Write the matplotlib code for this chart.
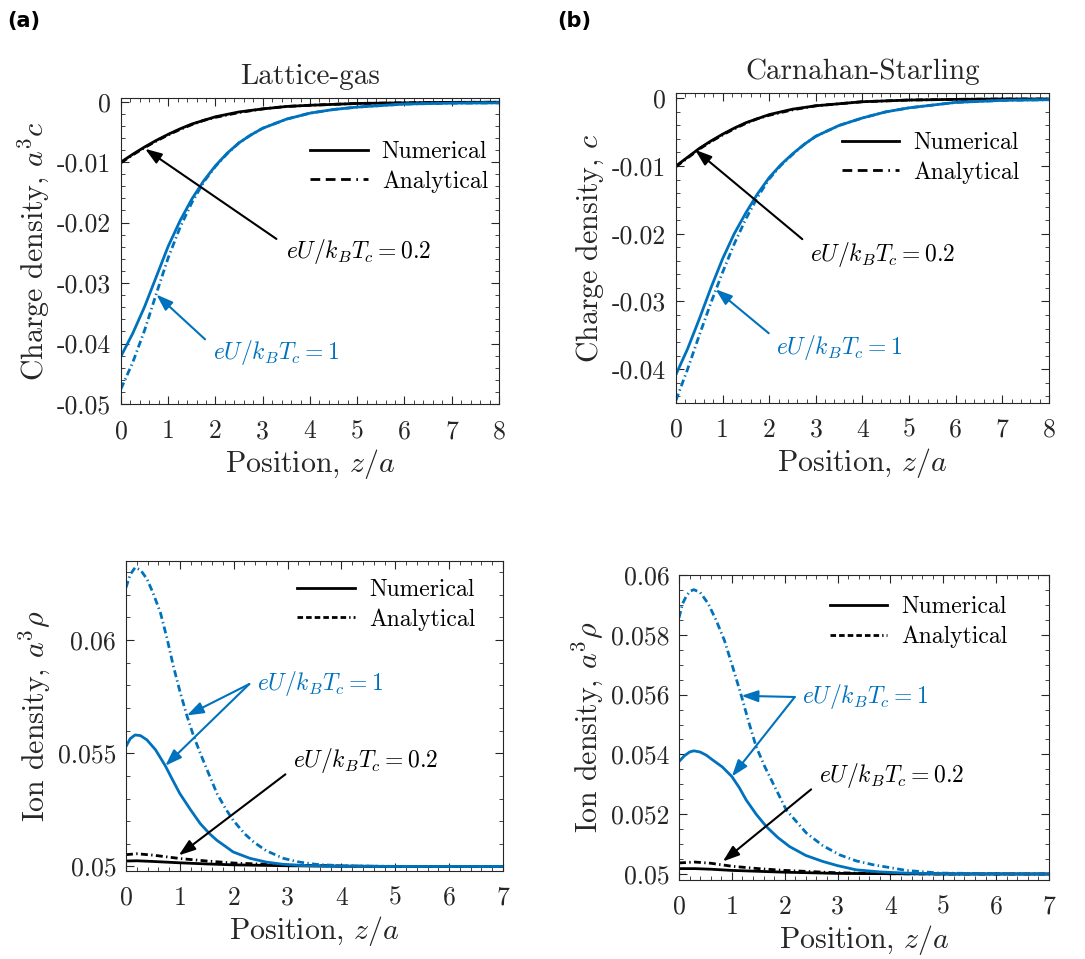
import numpy as np
import matplotlib
matplotlib.use('Agg')
import matplotlib.pyplot as plt
from matplotlib.lines import Line2D
from matplotlib.ticker import AutoMinorLocator, FuncFormatter, MultipleLocator

plt.rcParams.update({'font.family': 'serif',
                     'font.serif': ['cmr10'],
                     'mathtext.fontset': 'cm',
                     'axes.unicode_minus': False,
                     'axes.formatter.use_mathtext': True})

blue = '#0072BD'
dark = '#262626'

# ---- data ----
# (a) top: Lattice-gas charge density
z_tl_k = [0, 0.25, 0.5, 0.75, 1, 1.25, 1.5, 1.75, 2, 2.5, 3, 3.5, 4, 5, 6, 7, 8]
c_tl_k_num = [-0.0100, -0.0087, -0.0075, -0.0064, -0.0054, -0.0045, -0.0037, -0.0031, -0.0025,
              -0.0017, -0.0012, -0.0008, -0.0006, -0.0003, -0.0002, -0.00012, -0.0001]
c_tl_k_ana = [-0.0101, -0.0088, -0.0076, -0.0065, -0.0055, -0.0046, -0.0038, -0.0031, -0.0026,
              -0.0018, -0.0012, -0.0008, -0.0006, -0.0003, -0.0002, -0.00012, -0.0001]
z_tl_b = [0, 0.25, 0.5, 0.75, 1, 1.25, 1.5, 1.75, 2, 2.25, 2.5, 2.75, 3, 3.5, 4, 4.5, 5, 6, 7, 8]
c_tl_b_num = [-0.0421, -0.0383, -0.0339, -0.0289, -0.0239, -0.0197, -0.0161, -0.0131, -0.0106,
              -0.0085, -0.0068, -0.0055, -0.0044, -0.0029, -0.0019, -0.0013, -0.0009, -0.0004,
              -0.00025, -0.0002]
c_tl_b_ana = [-0.0475, -0.0431, -0.0378, -0.0317, -0.0258, -0.0208, -0.0167, -0.0133, -0.0107,
              -0.0086, -0.0068, -0.0055, -0.0044, -0.0029, -0.0019, -0.0013, -0.0009, -0.0004,
              -0.00025, -0.0002]

# (b) top: Carnahan-Starling charge density
z_tr_k = [0, 0.25, 0.5, 0.75, 1, 1.25, 1.5, 1.75, 2, 2.5, 3, 3.5, 4, 5, 6, 7, 8]
c_tr_k_num = [-0.0100, -0.0087, -0.0074, -0.0063, -0.0053, -0.0044, -0.0036, -0.0030, -0.0024,
              -0.0016, -0.0011, -0.0008, -0.0005, -0.00025, -0.00015, -0.0001, -0.0001]
c_tr_k_ana = [-0.0101, -0.0088, -0.0075, -0.0064, -0.0054, -0.0045, -0.0037, -0.0030, -0.0025,
              -0.0017, -0.0011, -0.0008, -0.0005, -0.00025, -0.00015, -0.0001, -0.0001]
z_tr_b = [0, 0.25, 0.5, 0.75, 1, 1.25, 1.5, 1.75, 2, 2.25, 2.5, 2.75, 3, 3.5, 4, 4.5, 5, 6, 7, 8]
c_tr_b_num = [-0.0408, -0.0370, -0.0326, -0.0280, -0.0237, -0.0200, -0.0169, -0.0141, -0.0117,
              -0.0098, -0.0082, -0.0068, -0.0056, -0.0040, -0.0029, -0.0020, -0.0014, -0.0006,
              -0.0003, -0.0002]
c_tr_b_ana = [-0.0446, -0.0400, -0.0350, -0.0302, -0.0257, -0.0215, -0.0178, -0.0146, -0.0119,
              -0.0099, -0.0083, -0.0068, -0.0056, -0.0040, -0.0029, -0.0020, -0.0014, -0.0006,
              -0.0003, -0.0002]

# (a) bottom: Lattice-gas ion density
z_bl_ba = [0, 0.08, 0.17, 0.27, 0.39, 0.5, 0.64, 0.76, 0.88, 1.0, 1.13, 1.25, 1.38, 1.5, 1.69,
           1.85, 1.99, 2.2, 2.37, 2.6, 2.92, 3.2, 3.54, 4.0, 4.47, 5.5, 7]
r_bl_ba = [0.06232, 0.0629, 0.06321, 0.0631, 0.0627, 0.0621, 0.06121, 0.0601, 0.05885, 0.05775,
           0.05667, 0.0558, 0.0550, 0.0543, 0.05322, 0.05255, 0.05204, 0.05145, 0.05108, 0.05070,
           0.05036, 0.05020, 0.05009, 0.05003, 0.05001, 0.05, 0.05]
z_bl_bn = [0, 0.08, 0.17, 0.27, 0.39, 0.55, 0.73, 0.86, 1.0, 1.2, 1.38, 1.55, 1.69, 1.85, 1.99,
           2.3, 2.61, 2.9, 3.23, 3.85, 5, 7]
r_bl_bn = [0.0553, 0.05565, 0.05581, 0.05578, 0.05559, 0.05515, 0.05445, 0.05385, 0.05322,
           0.0525, 0.05189, 0.05145, 0.05115, 0.05088, 0.05064, 0.05036, 0.05019, 0.05010,
           0.05004, 0.05001, 0.05, 0.05]
z_bl_k = [0, 0.2, 0.5, 1, 1.5, 2, 3, 4, 5, 7]
r_bl_ka = [0.05052, 0.05056, 0.05050, 0.05035, 0.05024, 0.05015, 0.05006, 0.05002, 0.05, 0.05]
r_bl_kn = [0.05024, 0.05025, 0.05022, 0.05016, 0.05011, 0.05007, 0.05003, 0.05001, 0.05, 0.05]

# (b) bottom: Carnahan-Starling ion density
z_br_ba = [0, 0.07, 0.14, 0.21, 0.28, 0.4, 0.55, 0.7, 0.86, 1.02, 1.18, 1.32, 1.46, 1.62, 1.78,
           2.03, 2.41, 2.72, 3.04, 3.35, 3.67, 4.3, 4.93, 7]
r_br_ba = [0.05857, 0.05905, 0.0593, 0.05946, 0.05951, 0.05942, 0.05905, 0.05850, 0.05781,
           0.05690, 0.05596, 0.05508, 0.05426, 0.05360, 0.05303, 0.05214, 0.05137, 0.05095,
           0.05064, 0.05044, 0.05031, 0.05012, 0.05003, 0.05]
z_br_bn = [0, 0.1, 0.2, 0.28, 0.4, 0.52, 0.64, 0.82, 1.0, 1.14, 1.27, 1.46, 1.65, 1.87, 2.09,
           2.4, 2.72, 3.0, 3.35, 3.8, 4.3, 5.2, 7]
r_br_bn = [0.05376, 0.05395, 0.05408, 0.05412, 0.05408, 0.05397, 0.05381, 0.05358, 0.05326,
           0.05289, 0.05248, 0.05200, 0.05159, 0.05122, 0.05092, 0.05062, 0.05042, 0.05028,
           0.05014, 0.05007, 0.05003, 0.05, 0.05]
z_br_k = [0, 0.3, 0.6, 1, 1.5, 2, 3, 4, 5, 7]
r_br_ka = [0.05037, 0.0504, 0.05036, 0.05026, 0.05018, 0.05012, 0.05004, 0.05001, 0.05, 0.05]
r_br_kn = [0.05018, 0.05018, 0.05016, 0.05012, 0.05009, 0.05006, 0.05002, 0.05001, 0.05, 0.05]

labelU02 = r'$eU/k_BT_c = 0.2$'
labelU1 = r'$eU/k_BT_c = 1$'

tickFont = 18.5
axesFont = {'size': 21.5, 'color': dark}
titleFont = {'size': 21, 'color': dark}
annFont = 17
legFont = 17
anaStyle = (0, (2.5, 1.2, 0.5, 1.2))
lw = 2.0

fig = plt.figure(figsize=(10.85, 9.59), dpi=100)
ax_tl = fig.add_axes([0.1115, 0.5787, 0.3484, 0.3191])
ax_tr = fig.add_axes([0.6230, 0.5798, 0.3438, 0.3233])
ax_bl = fig.add_axes([0.1161, 0.0918, 0.3475, 0.3233])
ax_br = fig.add_axes([0.6258, 0.0824, 0.3410, 0.3180])


def fmt(v, p):
    return '%g' % (round(v, 6) + 0.0)


def style(ax):
    ax.tick_params(which='both', direction='in', top=True, right=True,
                   labelsize=tickFont, colors=dark)
    ax.tick_params(axis='x', pad=11)
    ax.tick_params(axis='y', pad=7)
    ax.tick_params(which='major', length=6, width=0.8)
    ax.tick_params(which='minor', length=3, width=0.6)
    ax.xaxis.set_major_locator(MultipleLocator(1))
    ax.xaxis.set_minor_locator(AutoMinorLocator())
    ax.yaxis.set_minor_locator(AutoMinorLocator())
    ax.yaxis.set_major_formatter(FuncFormatter(fmt))
    ax.xaxis.set_major_formatter(FuncFormatter(fmt))
    for s in ax.spines.values():
        s.set_color(dark)
        s.set_linewidth(0.8)
    ax.set_xlabel(r'Position, $z/a$', fontdict=axesFont, labelpad=3)


def arrow(ax, tail, tip, color):
    ax.annotate('', xy=tip, xytext=tail,
                arrowprops=dict(arrowstyle='-|>,head_length=1.0,head_width=0.35',
                                color=color, lw=1.5, shrinkA=0, shrinkB=0))


top_handles = [Line2D([], [], color='k', lw=lw),
               Line2D([], [], color='k', lw=lw,
                      linestyle=(0, (3.5, 2, 3.5, 2, 3.5, 2, 0.6, 2)))]
bot_handles = [Line2D([], [], color='k', lw=lw),
               Line2D([], [], color='k', lw=lw,
                      linestyle=(0, (2, 1.1, 2, 1.1, 2, 1.1, 2, 1.1, 2, 1.1, 2, 1.1, 0.5, 1.1)))]
legKw = dict(loc='upper right', frameon=False, fontsize=legFont, handlelength=2.45,
             handletextpad=0.6, labelspacing=0.3, borderpad=0, borderaxespad=0)

# top-left
ax = ax_tl
ax.plot(z_tl_k, c_tl_k_num, color='k', lw=lw)
ax.plot(z_tl_k, c_tl_k_ana, color='k', lw=lw, linestyle=anaStyle)
ax.plot(z_tl_b, c_tl_b_num, color=blue, lw=lw)
ax.plot(z_tl_b, c_tl_b_ana, color=blue, lw=lw, linestyle=anaStyle)
ax.set_xlim(0, 8)
ax.set_ylim(-0.05, 0.0006)
ax.yaxis.set_major_locator(MultipleLocator(0.01))
style(ax)
ax.set_ylabel(r'Charge density, $a^3c$', fontdict=axesFont)
ax.set_title('Lattice-gas', fontdict=titleFont, pad=10)
ax.text(3.5, -0.0247, labelU02, fontsize=annFont, va='center', color='k')
arrow(ax, (3.29, -0.0227), (0.51, -0.0078), 'k')
ax.text(1.95, -0.0414, labelU1, fontsize=annFont, va='center', color=blue)
arrow(ax, (1.78, -0.0393), (0.75, -0.0319), blue)
ax.legend(top_handles, ['Numerical', 'Analytical'], bbox_to_anchor=(0.971, 0.86), **legKw)

# top-right
ax = ax_tr
ax.plot(z_tr_k, c_tr_k_num, color='k', lw=lw)
ax.plot(z_tr_k, c_tr_k_ana, color='k', lw=lw, linestyle=anaStyle)
ax.plot(z_tr_b, c_tr_b_num, color=blue, lw=lw)
ax.plot(z_tr_b, c_tr_b_ana, color=blue, lw=lw, linestyle=anaStyle)
ax.set_xlim(0, 8)
ax.set_ylim(-0.045, 0.0008)
ax.yaxis.set_major_locator(MultipleLocator(0.01))
style(ax)
ax.set_ylabel(r'Charge density, $c$', fontdict=axesFont)
ax.set_title('Carnahan-Starling', fontdict=titleFont, pad=10)
ax.text(2.87, -0.023, labelU02, fontsize=annFont, va='center', color='k')
arrow(ax, (2.71, -0.0208), (0.41, -0.0076), 'k')
ax.text(2.15, -0.0368, labelU1, fontsize=annFont, va='center', color=blue)
arrow(ax, (1.99, -0.0347), (0.85, -0.0282), blue)
ax.legend(top_handles, ['Numerical', 'Analytical'], bbox_to_anchor=(0.922, 0.874), **legKw)

# bottom-left
ax = ax_bl
ax.plot(z_bl_k, r_bl_kn, color='k', lw=lw)
ax.plot(z_bl_k, r_bl_ka, color='k', lw=lw, linestyle=anaStyle)
ax.plot(z_bl_bn, r_bl_bn, color=blue, lw=lw)
ax.plot(z_bl_ba, r_bl_ba, color=blue, lw=lw, linestyle=anaStyle)
ax.set_xlim(0, 7)
ax.set_ylim(0.0498, 0.0635)
ax.yaxis.set_major_locator(MultipleLocator(0.005))
style(ax)
ax.set_ylabel(r'Ion density, $a^3\rho$', fontdict=axesFont)
ax.text(2.43, 0.0581, labelU1, fontsize=annFont, va='center', color=blue)
arrow(ax, (2.29, 0.05806), (1.13, 0.05667), blue)
arrow(ax, (2.29, 0.05806), (0.73, 0.05445), blue)
ax.text(3.11, 0.0547, labelU02, fontsize=annFont, va='center', color='k')
arrow(ax, (2.96, 0.05407), (0.98, 0.05049), 'k')
ax.legend(bot_handles, ['Numerical', 'Analytical'], bbox_to_anchor=(0.926, 0.942), **legKw)

# bottom-right
ax = ax_br
ax.plot(z_br_k, r_br_kn, color='k', lw=lw)
ax.plot(z_br_k, r_br_ka, color='k', lw=lw, linestyle=anaStyle)
ax.plot(z_br_bn, r_br_bn, color=blue, lw=lw)
ax.plot(z_br_ba, r_br_ba, color=blue, lw=lw, linestyle=anaStyle)
ax.set_xlim(0, 7)
ax.set_ylim(0.0498, 0.06)
ax.yaxis.set_major_locator(MultipleLocator(0.002))
style(ax)
ax.set_ylabel(r'Ion density, $a^3\rho$', fontdict=axesFont)
ax.text(2.33, 0.05594, labelU1, fontsize=annFont, va='center', color=blue)
arrow(ax, (2.19, 0.05592), (1.18, 0.05596), blue)
arrow(ax, (2.19, 0.05592), (1.0, 0.05326), blue)
ax.text(2.65, 0.05329, labelU02, fontsize=annFont, va='center', color='k')
arrow(ax, (2.50, 0.05283), (0.83, 0.05042), 'k')
ax.legend(bot_handles, ['Numerical', 'Analytical'], bbox_to_anchor=(0.889, 0.931), **legKw)

fig.text(0.007, 0.978, '(a)', family='DejaVu Sans', fontweight='bold', fontsize=15, va='center')
fig.text(0.514, 0.978, '(b)', family='DejaVu Sans', fontweight='bold', fontsize=15, va='center')

plt.savefig('out.png', dpi=100)
